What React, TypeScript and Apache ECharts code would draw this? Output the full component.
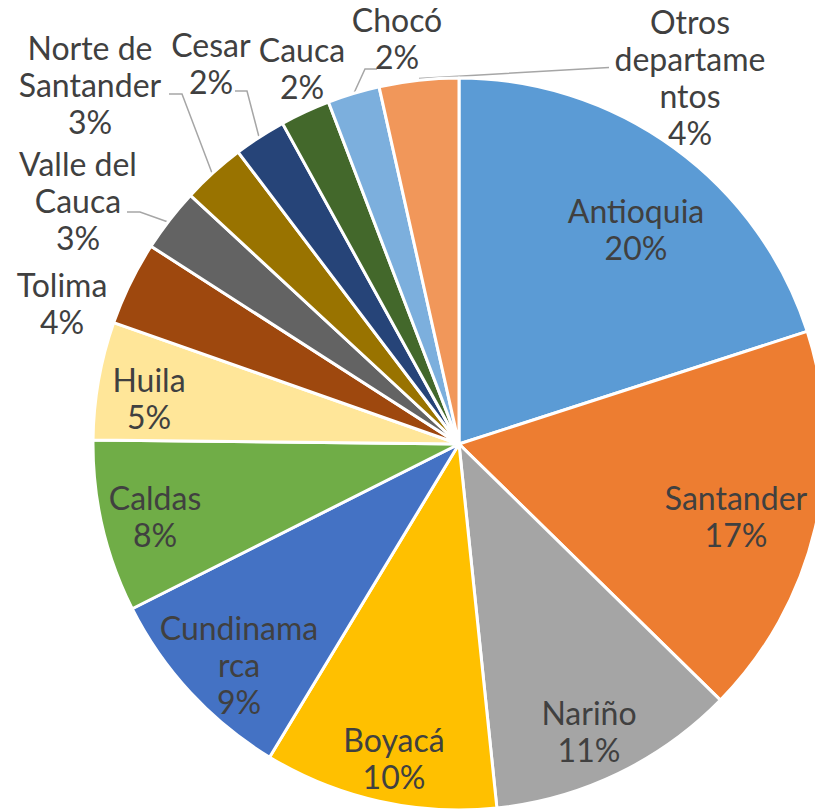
import React, { useEffect, useRef } from "react";
import * as echarts from "echarts";

// ---- data ----
const categories = [
  "Antioquia",
  "Santander",
  "Nariño",
  "Boyacá",
  "Cundinamarca",
  "Caldas",
  "Huila",
  "Tolima",
  "Valle del Cauca",
  "Norte de Santander",
  "Cesar",
  "Cauca",
  "Chocó",
  "Otros departamentos",
];
const shares = [20.0, 17.3, 11.0, 10.3, 8.9, 7.6, 5.2, 3.7, 2.8, 2.8, 2.3, 2.2, 2.3, 3.5];
const wrappedNames = [
  "Antioquia",
  "Santander",
  "Nariño",
  "Boyacá",
  "Cundinama\nrca",
  "Caldas",
  "Huila",
  "Tolima",
  "Valle del\nCauca",
  "Norte de\nSantander",
  "Cesar",
  "Cauca",
  "Chocó",
  "Otros\ndepartame\nntos",
];

// ---- styles / layout ----
const colors = [
  "#5B9BD5", "#ED7D31", "#A5A5A5", "#FFC000", "#4472C4", "#70AD47", "#FFE699",
  "#9E480E", "#636363", "#997300", "#264478", "#43682B", "#7CAFDD", "#F1975A",
];
const outsideLabel = [false, false, false, false, false, false, false, true, true, true, true, true, true, true];
const labelAnchor: [number, number][] = [
  [636, 229], [736, 516], [589, 731], [394, 758], [239, 664], [155, 516], [149, 398],
  [62, 303], [78, 200], [90, 84], [211, 63], [302, 68], [397, 38], [690, 77],
];
const leaderLines: ([number, number][] | null)[] = [
  null, null, null, null, null, null, null, null,
  [[168, 222], [140, 212], [127, 212]],
  [[212, 173], [182, 94], [169, 94]],
  [[259, 137], [247, 91], [235, 91]],
  null,
  [[354, 93], [365, 69], [377, 69]],
  [[419, 78.5], [600, 68], [609, 67.5]],
];

export default function App() {
  const ref = useRef<HTMLDivElement>(null);
  useEffect(() => {
    if (!ref.current) return;
    const chart = echarts.init(ref.current, undefined, { renderer: "svg" });
    const total = shares.reduce((a, b) => a + b, 0);
    chart.setOption({
      animation: false,
      backgroundColor: "#ffffff",
      series: [
        {
          type: "pie",
          center: [459, 444],
          radius: 366,
          startAngle: 90,
          clockwise: true,
          avoidLabelOverlap: false,
          itemStyle: { borderColor: "#ffffff", borderWidth: 3 },
          label: {
            color: "#404040",
            fontFamily: "Lato",
            fontSize: 32,
            lineHeight: 37,
            align: "center",
          },
          labelLine: { lineStyle: { color: "#A6A6A6", width: 1.5 } },
          data: categories.map((name, i) => ({
            name,
            value: shares[i],
            itemStyle: { color: colors[i] },
            label: {
              position: outsideLabel[i] ? "outside" : "inside",
              formatter: () => `${wrappedNames[i]}\n${Math.round((shares[i] / total) * 100)}%`,
            },
            labelLine: { show: !!leaderLines[i] },
          })),
          labelLayout: (params: any) => {
            const i = params.dataIndex;
            const res: any = {
              x: labelAnchor[i][0],
              y: labelAnchor[i][1],
              align: "center",
              verticalAlign: "middle",
            };
            if (leaderLines[i]) res.labelLinePoints = leaderLines[i];
            return res;
          },
        },
      ],
    });
    return () => chart.dispose();
  }, []);
  return (
    <div
      ref={ref}
      style={{ position: "absolute", left: 0, top: 0, width: 815, height: 810 }}
    />
  );
}
